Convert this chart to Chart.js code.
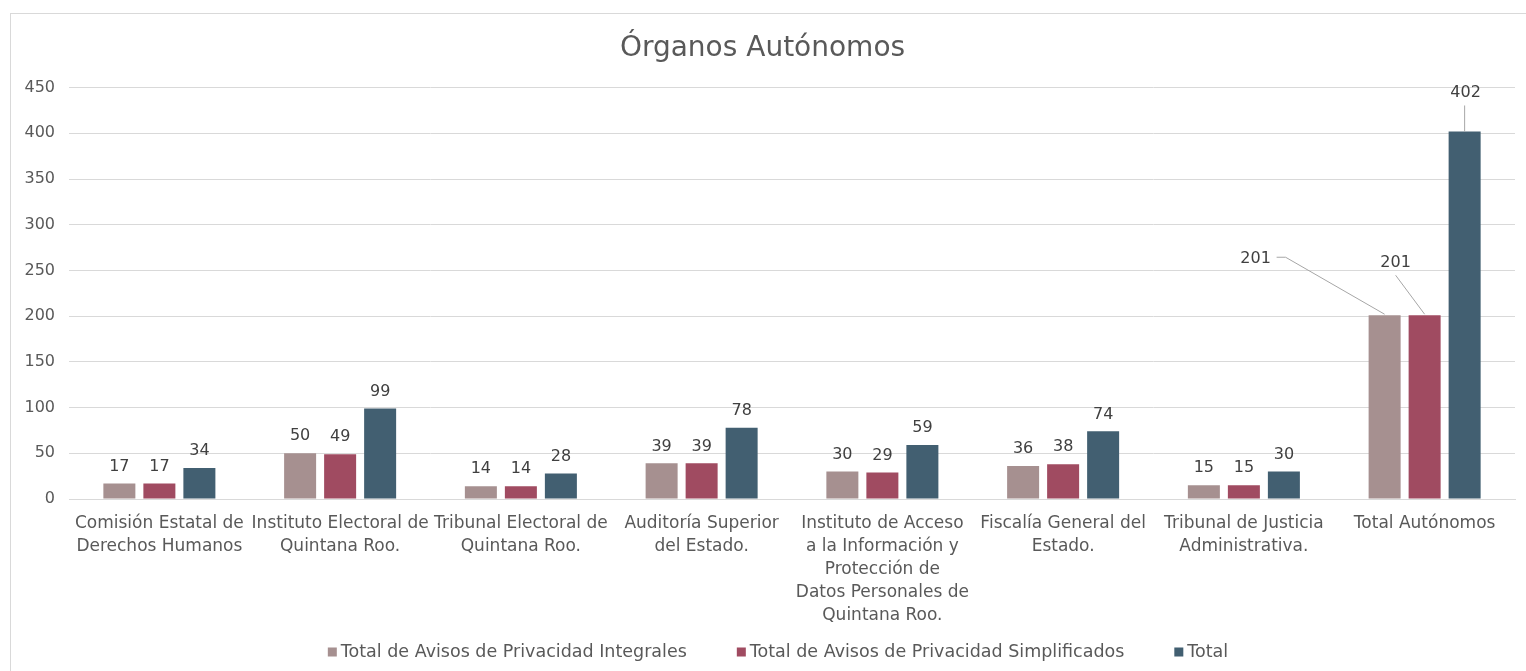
<!DOCTYPE html>
<html>
<head>
<meta charset="utf-8">
<script src="https://cdn.jsdelivr.net/npm/chart.js@4.4.1/dist/chart.umd.min.js"></script>
<style>
  body { margin: 0; background: #fff; overflow: hidden; }
  #marco { position: absolute; left: 10px; top: 13px; width: 1540px; height: 700px; border: 1px solid #d9d9d9; }
  #grafica { position: absolute; left: 0; top: 0; }
</style>
</head>
<body>
<div id="marco"></div>
<canvas id="grafica" width="1526" height="671"></canvas>
<script>
// datos del gráfico
const categorias = [
    ["Comisión Estatal de", "Derechos Humanos"],
    ["Instituto Electoral de", "Quintana Roo."],
    ["Tribunal Electoral de", "Quintana Roo."],
    ["Auditoría Superior", "del Estado."],
    ["Instituto de Acceso", "a la Información y", "Protección de", "Datos Personales de", "Quintana Roo."],
    ["Fiscalía General del", "Estado."],
    ["Tribunal de Justicia", "Administrativa."],
    ["Total Autónomos"]
];
const integrales = [17, 50, 14, 39, 30, 36, 15, 201];
const simplificados = [17, 49, 14, 39, 29, 38, 15, 201];
const totales = [34, 99, 28, 78, 59, 74, 30, 402];
const series = [
    "Total de Avisos de Privacidad Integrales",
    "Total de Avisos de Privacidad Simplificados",
    "Total"
];
const colores = ["#a69090", "#a04b61", "#425f71"];

const FUENTE = "'DejaVu Sans', sans-serif";
const GRIS = "#595959";

// etiquetas de valor, con líneas guía en la última categoría
const etiquetasValor = {
    id: "etiquetasValor",
    afterDatasetsDraw(chart, args, opts) {
        const ctx = chart.ctx;
        ctx.save();
        ctx.font = "16px " + FUENTE;
        ctx.fillStyle = "#404040";
        ctx.textAlign = "center";
        ctx.textBaseline = "middle";
        chart.data.datasets.forEach((ds, di) => {
            chart.getDatasetMeta(di).data.forEach((bar, i) => {
                const valor = ds.data[i];
                const guia = (opts.guias[di] || {})[i];
                if (guia) {
                    ctx.strokeStyle = "#a6a6a6";
                    ctx.lineWidth = 1;
                    ctx.beginPath();
                    guia.linea.forEach(([dx, dy], k) => {
                        if (k === 0) ctx.moveTo(bar.x + dx, bar.y + dy);
                        else ctx.lineTo(bar.x + dx, bar.y + dy);
                    });
                    ctx.stroke();
                    ctx.fillText(valor, bar.x + guia.dx, bar.y + guia.dy);
                } else {
                    ctx.fillText(valor, bar.x, bar.y - 17);
                }
            });
        });
        ctx.restore();
    }
};

// leyenda inferior dibujada a mano para controlar el espaciado
const leyenda = {
    id: "leyenda",
    afterDraw(chart, args, opts) {
        const ctx = chart.ctx;
        ctx.save();
        ctx.font = opts.tamano + "px " + FUENTE;
        ctx.textBaseline = "middle";
        const items = chart.data.datasets.map(ds => ({
            texto: ds.label,
            color: ds.backgroundColor,
            ancho: opts.caja + opts.hueco + ctx.measureText(ds.label).width
        }));
        const total = items.reduce((s, it) => s + it.ancho, 0) + opts.separacion * (items.length - 1);
        let x = opts.centro - total / 2;
        const y = opts.y;
        items.forEach(it => {
            ctx.fillStyle = it.color;
            ctx.fillRect(x, y - opts.caja / 2, opts.caja, opts.caja);
            ctx.fillStyle = GRIS;
            ctx.fillText(it.texto, x + opts.caja + opts.hueco, y);
            x += it.ancho + opts.separacion;
        });
        ctx.restore();
    }
};

new Chart(document.getElementById("grafica"), {
    type: "bar",
    data: {
        labels: categorias,
        datasets: series.map((nombre, k) => ({
            label: nombre,
            data: [integrales, simplificados, totales][k],
            backgroundColor: colores[k]
        }))
    },
    options: {
        responsive: false,
        animation: false,
        datasets: {
            bar: { categoryPercentage: 0.664, barPercentage: 0.8 }
        },
        layout: { padding: { left: 10, right: 11, top: 0, bottom: 32 } },
        plugins: {
            title: {
                display: true,
                text: "Órganos Autónomos",
                color: GRIS,
                font: { family: FUENTE, size: 28, weight: "normal" },
                padding: { top: 32, bottom: 22 }
            },
            legend: { display: false },
            tooltip: { enabled: false },
            leyenda: { tamano: 17.5, caja: 9, hueco: 4, separacion: 50, centro: 778, y: 652 },
            etiquetasValor: {
                guias: {
                    0: { 7: { dx: -129, dy: -56, linea: [[-108, -58], [-99, -58], [0, -1]] } },
                    1: { 7: { dx: -29, dy: -52, linea: [[-29, -40], [0, -1]] } },
                    2: { 7: { dx: 1, dy: -39, linea: [[0, -26], [0, 0]] } }
                }
            }
        },
        scales: {
            x: {
                grid: { display: false },
                border: { color: "#d9d9d9" },
                ticks: {
                    color: GRIS,
                    font: { family: FUENTE, size: 17, lineHeight: 1.36 },
                    maxRotation: 0,
                    autoSkip: false,
                    padding: 5
                },
                afterFit(scale) { scale.height = 140; }
            },
            y: {
                min: 0,
                max: 450,
                grid: { color: "#d9d9d9", drawTicks: false },
                border: { display: false },
                ticks: {
                    stepSize: 50,
                    color: GRIS,
                    font: { family: FUENTE, size: 16 },
                    padding: 14
                },
                afterFit(scale) { scale.width = 59; }
            }
        }
    },
    plugins: [etiquetasValor, leyenda]
});
</script>
</body>
</html>
